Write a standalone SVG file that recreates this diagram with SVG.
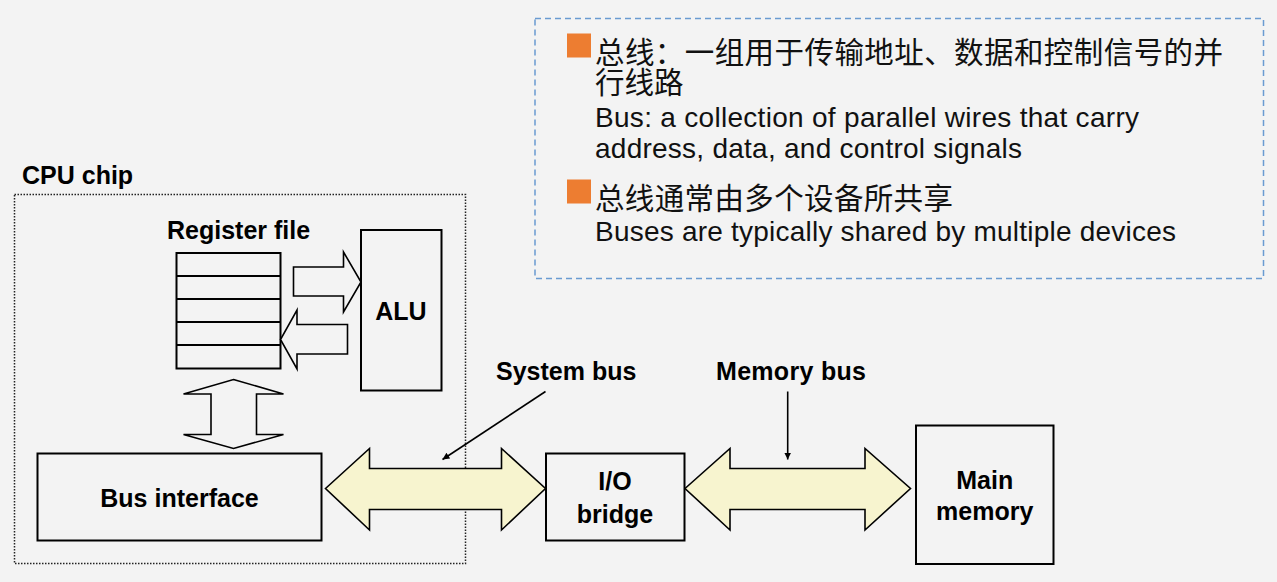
<svg xmlns="http://www.w3.org/2000/svg" width="1277" height="582" viewBox="0 0 1277 582">
<defs>
<style>
.bg{fill:#f3f3f3}
.box{fill:none;stroke:#000;stroke-width:2}
.hollow{fill:#f3f3f3;stroke:#000;stroke-width:1.6;stroke-linejoin:miter}
.bus{fill:#f7f4cf;stroke:#000;stroke-width:1.6;stroke-linejoin:miter}
.ptr{fill:none;stroke:#000;stroke-width:1.6}
.lbl{font-family:"Liberation Sans",Arial,sans-serif;font-weight:bold;font-size:25px;fill:#000}
.zh{font-family:"Noto Sans CJK SC","Noto Sans",sans-serif;font-size:29.5px;fill:#111}
.en{font-family:"Liberation Sans",Arial,sans-serif;font-size:28px;fill:#111}
.sq{fill:#ed7d31}
</style>
<marker id="ah" viewBox="0 0 10 10" refX="10" refY="5" markerWidth="7" markerHeight="7" markerUnits="userSpaceOnUse" orient="auto">
<path d="M0,0 L10,5 L0,10 z" fill="#000"/>
</marker>
</defs>
<rect class="bg" x="0" y="0" width="1277" height="582"/>

<g id="note">
<rect x="535" y="18.5" width="728.5" height="260" fill="none" stroke="#6a9bd1" stroke-width="1.5" stroke-dasharray="6 4"/>
<rect class="sq" x="567" y="33.5" width="24" height="24"/>
<text class="zh"><tspan x="595" y="63" textLength="628">总线：一组用于传输地址、数据和控制信号的并</tspan><tspan x="595" y="93">行线路</tspan></text>
<text class="en" x="595" y="127" textLength="544">Bus: a collection of parallel wires that carry</text>
<text class="en" x="595" y="158" textLength="427">address, data, and control signals</text>
<rect class="sq" x="567" y="179.5" width="24" height="24"/>
<text class="zh" x="595" y="209" textLength="358">总线通常由多个设备所共享</text>
<text class="en" x="595" y="241" textLength="581">Buses are typically shared by multiple devices</text>
</g>

<g id="cpu-chip">
<rect x="14.5" y="194.5" width="451" height="369" fill="none" stroke="#222" stroke-width="1.5" stroke-dasharray="1.5 1.5"/>
<text class="lbl" x="22" y="184">CPU chip</text>
</g>

<g id="register-file">
<text class="lbl" x="167" y="239">Register file</text>
<rect class="box" x="176.5" y="253" width="104" height="115.5"/>
<line class="box" x1="176.5" y1="276" x2="280.5" y2="276"/>
<line class="box" x1="176.5" y1="299" x2="280.5" y2="299"/>
<line class="box" x1="176.5" y1="322" x2="280.5" y2="322"/>
<line class="box" x1="176.5" y1="345" x2="280.5" y2="345"/>
</g>

<g id="alu">
<rect class="box" x="361" y="230" width="80.5" height="160.5"/>
<text class="lbl" x="401" y="320" text-anchor="middle">ALU</text>
</g>

<g id="bus-interface">
<rect class="box" x="37.5" y="453.5" width="284" height="87"/>
<text class="lbl" x="179.5" y="507" text-anchor="middle">Bus interface</text>
</g>

<g id="io-bridge">
<rect class="box" x="546" y="453.5" width="138.5" height="87"/>
<text class="lbl" x="615" y="490" text-anchor="middle">I/O</text>
<text class="lbl" x="615" y="523" text-anchor="middle">bridge</text>
</g>

<g id="main-memory">
<rect class="box" x="916" y="425.5" width="137.5" height="138.5"/>
<text class="lbl" x="984.7" y="488.5" text-anchor="middle">Main</text>
<text class="lbl" x="984.7" y="520" text-anchor="middle">memory</text>
</g>

<g id="labels">
<text class="lbl" x="496" y="380">System bus</text>
<text class="lbl" x="716" y="380" textLength="150">Memory bus</text>
</g>

<g id="connectors">
<polygon class="hollow" points="293.5,267 343.5,267 343.5,252 361,282 343.5,312 343.5,296 293.5,296"/>
<polygon class="hollow" points="347.5,324.5 297,324.5 297,310 280.5,339.5 297,369 297,354 347.5,354"/>
<polygon class="hollow" points="233.5,379.5 283.5,394 256.5,394 256.5,434.5 283.5,434.5 233.5,448.5 183.5,434.5 211,434.5 211,394 183.5,394"/>
<polygon class="bus" points="325.5,488.5 369.5,448.5 369.5,468.5 501.5,468.5 501.5,448.5 545.5,488.5 501.5,530 501.5,509.5 369.5,509.5 369.5,530"/>
<polygon class="bus" points="685,488.5 730,448.5 730,468.5 865,468.5 865,448.5 910.5,488.5 865,530 865,509.5 730,509.5 730,530"/>
<line class="ptr" x1="545.5" y1="391.5" x2="442.5" y2="459.5" marker-end="url(#ah)"/>
<line class="ptr" x1="787.7" y1="391.5" x2="787.7" y2="459.5" marker-end="url(#ah)"/>
</g>
</svg>
